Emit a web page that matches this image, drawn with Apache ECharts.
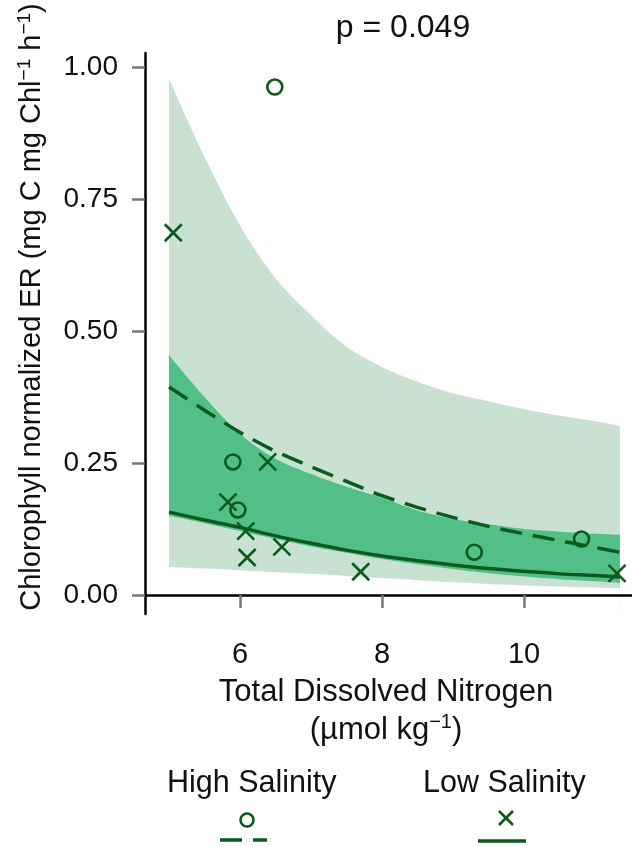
<!DOCTYPE html>
<html>
<head>
<meta charset="utf-8">
<script src="https://cdn.jsdelivr.net/npm/echarts@6/dist/echarts.min.js"></script>
<style>
  html, body { margin: 0; padding: 0; background: #fff; }
  #chart { width: 632px; height: 847px; }
</style>
</head>
<body>
<div id="chart"></div>
<script>
var xTicks = [6, 8, 10];
var yTicks = [0, 0.25, 0.5, 0.75, 1];

// observations
var highX = [6.49, 5.90, 5.97, 9.30, 10.81];
var highY = [0.962, 0.252, 0.161, 0.081, 0.106];
var lowX = [5.06, 6.39, 5.83, 6.08, 6.10, 6.59, 7.70, 11.31];
var lowY = [0.686, 0.252, 0.176, 0.121, 0.071, 0.091, 0.044, 0.041];

// fitted curves and confidence bands
var fitX      = [5.0, 5.5, 6.0, 6.5, 7.0, 7.5, 8.0, 8.5, 9.0, 9.5, 10.0, 10.5, 11.0, 11.35];
var fitHigh   = [0.394, 0.350, 0.308, 0.272, 0.243, 0.215, 0.188, 0.166, 0.147, 0.130, 0.116, 0.103, 0.090, 0.081];
var fitLow    = [0.157, 0.142, 0.128, 0.112, 0.098, 0.085, 0.074, 0.065, 0.057, 0.050, 0.045, 0.040, 0.037, 0.034];
var lightUp   = [0.978, 0.830, 0.700, 0.600, 0.530, 0.470, 0.432, 0.404, 0.382, 0.367, 0.352, 0.340, 0.329, 0.320];
var lightLo   = [0.053, 0.050, 0.047, 0.043, 0.040, 0.036, 0.032, 0.028, 0.024, 0.021, 0.018, 0.016, 0.014, 0.013];
var darkUp    = [0.454, 0.375, 0.305, 0.258, 0.229, 0.205, 0.184, 0.160, 0.144, 0.134, 0.125, 0.120, 0.116, 0.114];
var darkLo    = [0.150, 0.136, 0.121, 0.106, 0.092, 0.080, 0.068, 0.058, 0.049, 0.041, 0.035, 0.030, 0.026, 0.023];

var green = '#0b5a1d';
var lightFill = '#c9e1d1';
var darkFill = '#52bf86';
var font = '"Liberation Sans", Arial, sans-serif';

function zip(xs, ys) {
  var out = [];
  for (var i = 0; i < xs.length; i++) out.push([xs[i], ys[i]]);
  return out;
}

// each band edge is an area filled down to the axis; layered top to bottom
function edgeArea(values, color, z) {
  return {
    type: 'line', z: z, data: zip(fitX, values), showSymbol: false, smooth: 0.3, silent: true,
    lineStyle: { width: 0, opacity: 0 },
    areaStyle: { color: color, opacity: 1, origin: 'start' }
  };
}

var chart = echarts.init(document.getElementById('chart'), null, { renderer: 'canvas' });

var series = [
  edgeArea(lightUp, lightFill, 1),
  edgeArea(darkUp, darkFill, 2),
  edgeArea(darkLo, lightFill, 3),
  edgeArea(lightLo, '#ffffff', 4),
  {
    type: 'line', z: 6, data: zip(fitX, fitHigh), showSymbol: false, smooth: 0.3, silent: true,
    lineStyle: { color: green, width: 3.5, type: [22, 11] }
  },
  {
    type: 'line', z: 6, data: zip(fitX, fitLow), showSymbol: false, smooth: 0.3, silent: true,
    lineStyle: { color: green, width: 3.5 }
  },
  {
    type: 'scatter', z: 8, data: zip(highX, highY), symbol: 'circle', symbolSize: 15,
    itemStyle: { color: 'rgba(0,0,0,0)', borderColor: green, borderWidth: 2.6, opacity: 1 }
  },
  {
    type: 'scatter', z: 8, data: zip(lowX, lowY), symbol: 'path://M0,0L10,10M10,0L0,10', symbolSize: 17,
    itemStyle: { color: 'none', borderColor: green, borderWidth: 2.6, opacity: 1 }
  }
];

var option = {
  animation: false,
  textStyle: { fontFamily: font },
  grid: { left: 145, right: 0, top: 53, bottom: 233 },
  xAxis: {
    type: 'value',
    z: 10,
    min: 4.662,
    max: 11.521,
    splitLine: { show: false },
    axisLine: { lineStyle: { color: '#000', width: 2.5 } },
    axisTick: { customValues: xTicks, length: 13, lineStyle: { color: '#777', width: 2.5 } },
    axisLabel: { customValues: xTicks, margin: 26, fontSize: 29, color: '#111', fontFamily: font }
  },
  yAxis: {
    type: 'value',
    z: 10,
    min: -0.036,
    max: 1.0265,
    splitLine: { show: false },
    axisLine: { show: true, lineStyle: { color: '#000', width: 2.5 } },
    axisTick: { show: true, customValues: yTicks, length: 13, lineStyle: { color: '#777', width: 2.5 } },
    axisLabel: {
      customValues: yTicks, margin: 27, fontSize: 28, color: '#111', fontFamily: font,
      formatter: function (v) { return v.toFixed(2); }
    }
  },
  series: series,
  graphic: [
    {
      type: 'text', x: 403, y: 12,
      style: { text: 'p = 0.049', fontSize: 32, fill: '#111', fontFamily: font, align: 'center' }
    },
    {
      type: 'text', x: 32, y: 307, rotation: Math.PI / 2,
      style: {
        text: '{n|Chlorophyll normalized ER (mg C mg Chl}{s|−1}{n| h}{s|−1}{n|)}',
        align: 'center', verticalAlign: 'middle', fill: '#111', fontFamily: font,
        rich: {
          n: { fontSize: 29, lineHeight: 34, fontFamily: font, fill: '#111' },
          s: { fontSize: 19, lineHeight: 34, verticalAlign: 'top', fontFamily: font, fill: '#111' }
        }
      }
    },
    {
      type: 'text', x: 386, y: 677,
      style: { text: 'Total Dissolved Nitrogen', align: 'center', fontSize: 31, fill: '#111', fontFamily: font }
    },
    {
      type: 'text', x: 386, y: 712,
      style: {
        text: '{n|(µmol kg}{s|−1}{n|)}', align: 'center', fill: '#111', fontFamily: font,
        rich: {
          n: { fontSize: 31, lineHeight: 37, fontFamily: font, fill: '#111' },
          s: { fontSize: 20, lineHeight: 37, verticalAlign: 'top', fontFamily: font, fill: '#111' }
        }
      }
    },
    {
      type: 'text', x: 167, y: 768,
      style: { text: 'High Salinity', fontSize: 30.5, fill: '#111', fontFamily: font }
    },
    {
      type: 'text', x: 423, y: 768,
      style: { text: 'Low Salinity', fontSize: 30.5, fill: '#111', fontFamily: font }
    },
    {
      type: 'circle', shape: { cx: 247, cy: 820, r: 6.5 },
      style: { fill: 'none', stroke: green, lineWidth: 2.6 }
    },
    {
      type: 'line', shape: { x1: 220, y1: 840, x2: 242, y2: 840 },
      style: { stroke: green, lineWidth: 3.5 }
    },
    {
      type: 'line', shape: { x1: 253, y1: 840, x2: 267, y2: 840 },
      style: { stroke: green, lineWidth: 3.5 }
    },
    {
      type: 'line', shape: { x1: 499, y1: 811, x2: 513, y2: 825 },
      style: { stroke: green, lineWidth: 2.6 }
    },
    {
      type: 'line', shape: { x1: 513, y1: 811, x2: 499, y2: 825 },
      style: { stroke: green, lineWidth: 2.6 }
    },
    {
      type: 'line', shape: { x1: 478, y1: 841, x2: 526, y2: 841 },
      style: { stroke: green, lineWidth: 3.5 }
    }
  ]
};

chart.setOption(option);
</script>
</body>
</html>
